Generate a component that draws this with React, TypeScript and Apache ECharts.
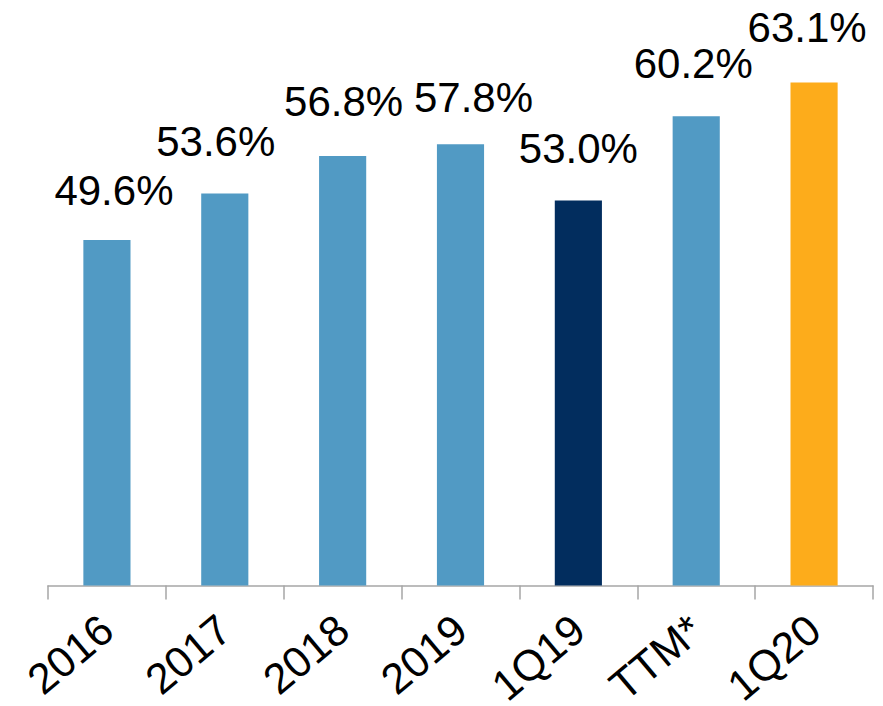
import React, { useEffect, useRef } from "react";
import * as echarts from "echarts";

const categories = ["2016", "2017", "2018", "2019", "1Q19", "TTM*", "1Q20"];
const values = [49.6, 53.6, 56.8, 57.8, 53.0, 60.2, 63.1];
const barColors = ["#519AC4", "#519AC4", "#519AC4", "#519AC4", "#022D5E", "#519AC4", "#FDAC1B"];
// small per-label nudges seen in the reference
const labelNudge = [[7, 2], [-9, 0], [1, -3], [13, 5], [0, 0], [-3, -1], [-7, -3]];

export default function App() {
  const ref = useRef<HTMLDivElement>(null);
  useEffect(() => {
    if (!ref.current) return;
    const chart = echarts.init(ref.current, undefined, { renderer: "svg" });
    chart.setOption({
      animation: false,
      grid: { left: 48, right: 10, top: 2, bottom: 120.5, containLabel: false, outerBoundsMode: "none" },
      xAxis: {
        type: "category",
        data: categories,
        axisLine: { show: true, lineStyle: { color: "#A6A6A6", width: 1.5 } },
        axisTick: { show: true, length: 14, lineStyle: { color: "#A6A6A6", width: 1.5 } },
        axisLabel: {
          rotate: 40,
          fontSize: 43,
          lineHeight: 30,
          color: "#000",
          fontFamily: "Liberation Sans, Arial, sans-serif",
          margin: 38,
          interval: 0,
        },
      },
      yAxis: {
        type: "value",
        min: 20,
        max: 70,
        show: false,
        splitLine: { show: false },
      },
      series: [
        {
          type: "bar",
          data: values.map((v, i) => ({
            value: v,
            itemStyle: { color: barColors[i] },
            label: { offset: labelNudge[i] },
          })),
          barCategoryGap: "60%",
          label: {
            show: true,
            position: "top",
            distance: 31,
            fontSize: 42,
            color: "#000",
            fontFamily: "Liberation Sans, Arial, sans-serif",
            formatter: (p: any) => p.value.toFixed(1) + "%",
          },
        },
      ],
    });
    return () => chart.dispose();
  }, []);
  return <div ref={ref} style={{ width: 883, height: 706, position: "absolute", left: 0, top: 0 }} />;
}
